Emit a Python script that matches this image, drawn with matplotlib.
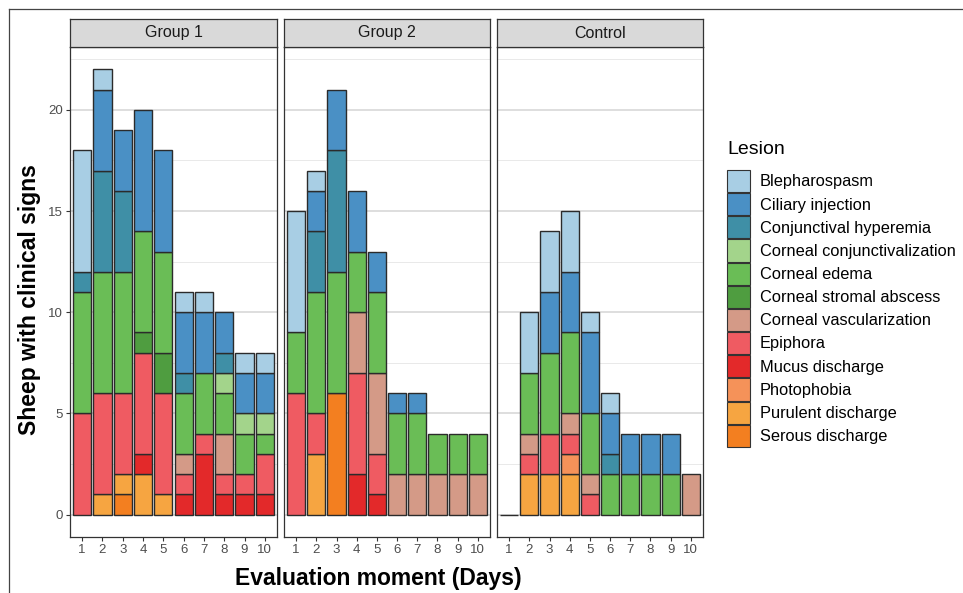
import matplotlib.pyplot as plt
import matplotlib.patches as mpatches
from matplotlib.lines import Line2D
import numpy as np

plt.rcParams.update({
    'font.family': 'Liberation Sans',
    'font.size': 10,
})

days = list(range(1, 11))
groups = ['Group 1', 'Group 2', 'Control']

# legend order (top of stack first)
lesions = ['Blepharospasm', 'Ciliary injection', 'Conjunctival hyperemia',
           'Corneal conjunctivalization', 'Corneal edema', 'Corneal stromal abscess',
           'Corneal vascularization', 'Epiphora', 'Mucus discharge', 'Photophobia',
           'Purulent discharge', 'Serous discharge']
colors = ['#a8cee4', '#4a90c5', '#3f8fa6', '#a3d48b', '#6abd56', '#4f9d40',
          '#d49a87', '#ef5b62', '#e3292a', '#f59259', '#f6a541', '#f37f20']

# counts per day (1..10), keyed by lesion
group1 = {
    'Serous discharge':            [0, 0, 1, 0, 0, 0, 0, 0, 0, 0],
    'Purulent discharge':          [0, 1, 1, 2, 1, 0, 0, 0, 0, 0],
    'Photophobia':                 [0, 0, 0, 0, 0, 0, 0, 0, 0, 0],
    'Mucus discharge':             [0, 0, 0, 1, 0, 1, 3, 1, 1, 1],
    'Epiphora':                    [5, 5, 4, 5, 5, 1, 1, 1, 1, 2],
    'Corneal vascularization':     [0, 0, 0, 0, 0, 1, 0, 2, 0, 0],
    'Corneal stromal abscess':     [0, 0, 0, 1, 2, 0, 0, 0, 0, 0],
    'Corneal edema':               [6, 6, 6, 5, 5, 3, 3, 2, 2, 1],
    'Corneal conjunctivalization': [0, 0, 0, 0, 0, 0, 0, 1, 1, 1],
    'Conjunctival hyperemia':      [1, 5, 4, 0, 0, 1, 0, 1, 0, 0],
    'Ciliary injection':           [0, 4, 3, 6, 5, 3, 3, 2, 2, 2],
    'Blepharospasm':               [6, 1, 0, 0, 0, 1, 1, 0, 1, 1],
}
group2 = {
    'Serous discharge':            [0, 0, 6, 0, 0, 0, 0, 0, 0, 0],
    'Purulent discharge':          [0, 3, 0, 0, 0, 0, 0, 0, 0, 0],
    'Photophobia':                 [0, 0, 0, 0, 0, 0, 0, 0, 0, 0],
    'Mucus discharge':             [0, 0, 0, 2, 1, 0, 0, 0, 0, 0],
    'Epiphora':                    [6, 2, 0, 5, 2, 0, 0, 0, 0, 0],
    'Corneal vascularization':     [0, 0, 0, 3, 4, 2, 2, 2, 2, 2],
    'Corneal stromal abscess':     [0, 0, 0, 0, 0, 0, 0, 0, 0, 0],
    'Corneal edema':               [3, 6, 6, 3, 4, 3, 3, 2, 2, 2],
    'Corneal conjunctivalization': [0, 0, 0, 0, 0, 0, 0, 0, 0, 0],
    'Conjunctival hyperemia':      [0, 3, 6, 0, 0, 0, 0, 0, 0, 0],
    'Ciliary injection':           [0, 2, 3, 3, 2, 1, 1, 0, 0, 0],
    'Blepharospasm':               [6, 1, 0, 0, 0, 0, 0, 0, 0, 0],
}
control = {
    'Serous discharge':            [0, 0, 0, 0, 0, 0, 0, 0, 0, 0],
    'Purulent discharge':          [0, 2, 2, 2, 0, 0, 0, 0, 0, 0],
    'Photophobia':                 [0, 0, 0, 1, 0, 0, 0, 0, 0, 0],
    'Mucus discharge':             [0, 0, 0, 0, 0, 0, 0, 0, 0, 0],
    'Epiphora':                    [0, 1, 2, 1, 1, 0, 0, 0, 0, 0],
    'Corneal vascularization':     [0, 1, 0, 1, 1, 0, 0, 0, 0, 2],
    'Corneal stromal abscess':     [0, 0, 0, 0, 0, 0, 0, 0, 0, 0],
    'Corneal edema':               [0, 3, 4, 4, 3, 2, 2, 2, 2, 0],
    'Corneal conjunctivalization': [0, 0, 0, 0, 0, 0, 0, 0, 0, 0],
    'Conjunctival hyperemia':      [0, 0, 0, 0, 0, 1, 0, 0, 0, 0],
    'Ciliary injection':           [0, 0, 3, 3, 4, 2, 2, 2, 2, 0],
    'Blepharospasm':               [0, 3, 3, 3, 1, 1, 0, 0, 0, 0],
}
data = [group1, group2, control]
color_map = dict(zip(lesions, colors))

fig = plt.figure(figsize=(9.63, 5.93), dpi=100)
W, H = 963, 593
panel_x = [(70, 277), (284, 490), (497, 703)]
top, bottom, strip_top = 47, 537, 19

edge = '#2b2b2b'
for i, (grp, d) in enumerate(zip(groups, data)):
    x0, x1 = panel_x[i]
    ax = fig.add_axes([x0 / W, 1 - bottom / H, (x1 - x0) / W, (bottom - top) / H])
    base = np.zeros(len(days))
    for les in lesions[::-1]:
        vals = np.array(d[les], dtype=float)
        mask = vals > 0
        ax.bar(np.array(days)[mask], vals[mask], bottom=base[mask], width=0.9,
               color=color_map[les], edgecolor=edge, linewidth=1.0, zorder=3)
        base += vals
    # empty days still get a flat bar outline
    empty = base == 0
    if empty.any():
        ax.bar(np.array(days)[empty], 0, width=0.9, edgecolor=edge,
               facecolor='none', linewidth=1.0, zorder=3)

    ax.set_xlim(0.4, 10.6)
    ax.set_ylim(-1.1, 23.1)
    ax.set_yticks([0, 5, 10, 15, 20])
    ax.set_yticks([2.5, 7.5, 12.5, 17.5, 22.5], minor=True)
    ax.set_xticks(days)
    ax.set_xticklabels([str(x) for x in days])
    ax.grid(which='major', axis='y', color='#d4d4d4', linewidth=1.1, zorder=0)
    ax.grid(which='minor', axis='y', color='#e9e9e9', linewidth=0.7, zorder=0)
    ax.tick_params(axis='both', which='major', length=3, width=0.8, color='#333333',
                   labelsize=9.5, labelcolor='#4d4d4d', pad=2)
    ax.tick_params(axis='y', which='minor', length=0)
    if i > 0:
        ax.tick_params(axis='y', which='major', left=False, labelleft=False)
    for s in ax.spines.values():
        s.set_color('#333333')
        s.set_linewidth(0.9)
    ax.set_axisbelow(True)

    # facet strip
    sax = fig.add_axes([x0 / W, 1 - top / H, (x1 - x0) / W, (top - strip_top) / H])
    sax.set_facecolor('#d9d9d9')
    sax.set_xticks([])
    sax.set_yticks([])
    for s in sax.spines.values():
        s.set_color('#333333')
        s.set_linewidth(0.9)
    sax.text(0.5, 0.5, grp, ha='center', va='center', fontsize=11.5, color='#1a1a1a')

fig.text(30 / W, 1 - 300 / H, 'Sheep with clinical signs', rotation=90,
         ha='center', va='center', fontsize=16.5, fontweight='bold')
fig.text(378 / W, 1 - 578 / H, 'Evaluation moment (Days)',
         ha='center', va='center', fontsize=16.5, fontweight='bold')

handles = [mpatches.Patch(facecolor=color_map[l], edgecolor='#333333', linewidth=0.8)
           for l in lesions]
leg = fig.legend(handles, lesions, loc='upper left',
                 bbox_to_anchor=(727 / W, 1 - 170 / H), frameon=False,
                 fontsize=11.8,
                 handlelength=1.4, handleheight=1.69, handletextpad=0.6,
                 labelspacing=0.07, borderaxespad=0, borderpad=0)
fig.text(727 / W, 1 - 150 / H, 'Lesion', ha='left', va='center', fontsize=14)

# outer frame edges of the original image
fig.add_artist(Line2D([9 / W, 9 / W], [0, 1 - 9 / H], color='#444444', linewidth=0.9))
fig.add_artist(Line2D([9 / W, 1], [1 - 9 / H, 1 - 9 / H], color='#444444', linewidth=0.9))

fig.savefig('out.png', dpi=100)
